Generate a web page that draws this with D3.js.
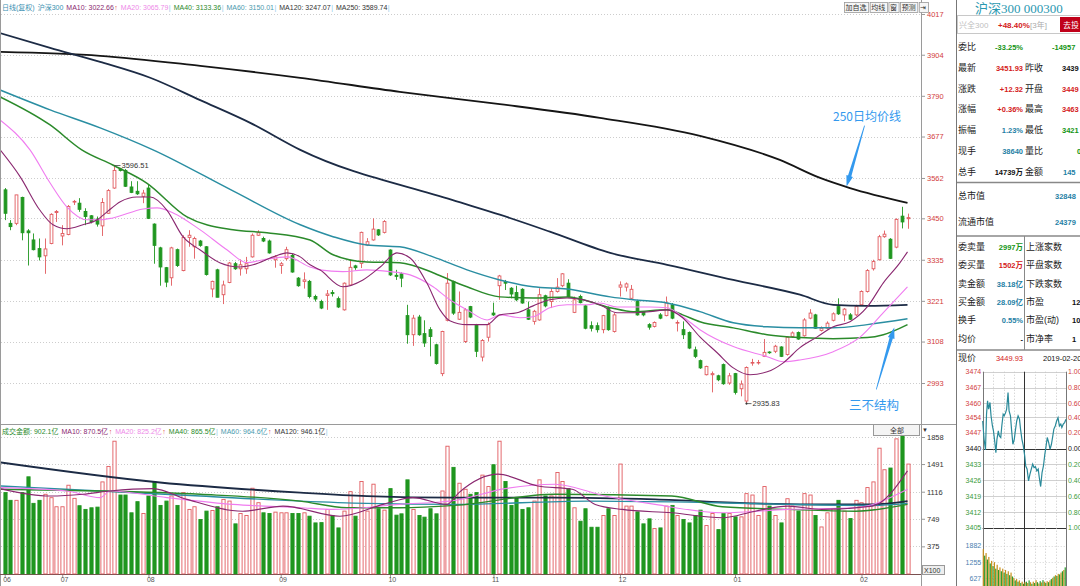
<!DOCTYPE html>
<html>
<head>
<meta charset="utf-8">
<script src="https://cdn.jsdelivr.net/npm/d3@7/dist/d3.min.js"></script>
<style>
html, body { margin: 0; padding: 0; background: #fff; overflow: hidden; }
svg { display: block; font-family: "Liberation Sans", "Noto Sans CJK SC", sans-serif; }
</style>
</head>
<body>
<svg id="chart" width="1080" height="586"></svg>
<script>
// daily candles, 沪深300, Jun 2018 -> 2019-02-20
const opens = [3529,3436,3436,3508,3415,3390,3366,3346,3380,3466,
  3401,3405,3495,3492,3469,3457,3448,3429,3464,3534,
  3587,3583,3537,3525,3511,3534,3434,3368,3313,3285,
  3363,3305,3397,3371,3387,3371,3254,3307,3238,3272,
  3324,3310,3310,3343,3403,3394,3387,3335,3319,3338,
  3347,3284,3275,3275,3233,3219,3236,3244,3227,3196,
  3265,3318,3325,3376,3390,3418,3411,3362,3292,3296,
  3180,3127,3176,3130,3141,3099,3019,3167,3275,3170,
  3108,3205,3155,3065,3120,3187,3263,3274,3256,3244,
  3253,3196,3164,3168,3235,3219,3247,3263,3270,3189,
  3233,3207,3152,3152,3141,3201,3136,3259,3259,3228,
  3219,3189,3155,3150,3182,3180,3210,3159,3141,3133,
  3085,3055,3016,3016,3013,3044,2993,3019,2977,2943,
  3048,3049,3067,3079,3081,3093,3072,3122,3133,3124,
  3173,3182,3139,3145,3167,3205,3182,3182,3182,3210,
  3247,3310,3335,3399,3392,3370,3456,3449]
const closes = [3464,3427,3515,3410,3410,3363,3343,3365,3461,3469,
  3408,3483,3497,3475,3455,3441,3434,3494,3527,3583,
  3583,3539,3522,3518,3520,3450,3375,3315,3273,3368,
  3319,3397,3403,3394,3375,3294,3275,3231,3265,3326,
  3310,3321,3324,3403,3410,3387,3354,3343,3324,3363,
  3301,3263,3279,3233,3226,3201,3240,3241,3204,3270,
  3314,3313,3411,3385,3420,3404,3441,3293,3289,3284,
  3127,3173,3127,3104,3122,3047,3136,3270,3187,3189,
  3196,3176,3081,3111,3155,3182,3290,3270,3240,3224,
  3215,3170,3192,3238,3207,3247,3259,3296,3233,3224,
  3216,3145,3145,3141,3180,3141,3182,3265,3268,3253,
  3182,3182,3148,3161,3173,3215,3173,3161,3127,3090,
  3067,3035,3039,3019,3002,2991,3013,2967,2990,3036,
  3050,3050,3078,3077,3095,3067,3120,3132,3115,3168,
  3187,3145,3145,3159,3185,3185,3198,3170,3205,3247,
  3305,3330,3399,3406,3339,3447,3440,3451.93]
const highs = [3534,3445,3515,3510,3420,3408,3394,3394,3464,3473,
  3431,3487,3501,3506,3478,3459,3455,3506,3531,3596.51,
  3590,3587,3553,3553,3529,3543,3436,3371,3315,3371,
  3366,3403,3417,3399,3390,3373,3277,3310,3277,3329,
  3329,3336,3343,3408,3417,3399,3391,3348,3329,3371,
  3352,3287,3300,3279,3238,3224,3251,3251,3233,3272,
  3335,3321,3413,3395,3450,3420,3445,3364,3307,3300,
  3210,3182,3182,3167,3148,3102,3138,3298,3277,3247,
  3201,3207,3157,3115,3161,3216,3293,3279,3259,3263,
  3256,3219,3196,3256,3238,3256,3284,3298,3281,3233,
  3238,3210,3164,3161,3182,3205,3187,3275,3272,3265,
  3224,3192,3159,3164,3187,3233,3215,3167,3164,3136,
  3094,3058,3041,3025,3016,3047,3021,3021,3000,3039,
  3060,3057,3115,3081,3099,3095,3122,3136,3136,3173,
  3198,3185,3150,3164,3189,3228,3201,3187,3210,3250,
  3309,3335,3404,3416,3395,3450,3482,3463]
const lows = [3445,3417,3431,3389,3319,3361,3333,3296,3378,3440,
  3375,3403,3487,3468,3431,3436,3427,3401,3462,3532,
  3580,3537,3520,3515,3492,3448,3324,3263,3259,3263,
  3315,3303,3371,3338,3371,3291,3231,3231,3212,3270,
  3307,3291,3296,3341,3401,3384,3352,3313,3296,3333,
  3299,3260,3255,3228,3219,3198,3196,3233,3201,3194,
  3263,3307,3312,3373,3388,3401,3408,3290,3279,3259,
  3102,3096,3124,3093,3067,3044,3012,3164,3182,3168,
  3104,3173,3065,3053,3108,3179,3224,3251,3228,3220,
  3213,3168,3155,3166,3203,3201,3244,3259,3231,3187,
  3214,3142,3136,3133,3131,3138,3133,3233,3247,3226,
  3180,3178,3141,3147,3170,3178,3170,3136,3115,3087,
  3062,3032,3014,2967,2998,2988,2988,2961,2956,2935.83,
  3041,3044,3065,3074,3076,3065,3069,3118,3113,3122,
  3170,3143,3136,3141,3164,3182,3164,3168,3179,3207,
  3244,3305,3333,3396,3337,3367,3422,3421]
// 成交金额 (亿), axis shown x100
const volumes = [1104,999,999,1104,1318,958,999,1081,1035,912,
  912,1204,1026,926,876,898,907,1249,1459,1801,
  1071,1071,830,981,821,1058,1249,930,989,1058,
  930,1104,876,912,739,853,862,912,1012,989,
  680,821,793,1163,967,830,821,839,830,830,
  821,821,830,784,693,697,876,793,625,853,
  1117,784,1254,853,1218,885,866,1158,798,816,
  1277,876,793,771,885,816,1126,1733,1446,1231,
  1149,1081,1104,1341,1186,1482,1801,1254,930,1026,
  876,898,989,1277,1058,1058,1377,1254,1158,898,
  716,885,634,634,793,885,793,1491,921,921,
  843,680,748,616,625,921,930,793,739,693,
  793,866,657,821,602,821,821,775,775,1090,
  1071,793,1186,921,793,693,1021,921,853,1090,
  1071,793,638,830,885,999,853,752,999,967,
  1172,1249,1706,1414,1437,1833,1901,1491]

// moving averages: [day index, value]
const ma10 = [[-0.8,3640],[2.7,3565],[6.1,3473],[8.4,3432],[10.8,3421],[13.6,3432],[16.1,3446],[17.8,3468],[20.1,3496],[23,3509],[25.3,3509],[28.2,3473],[31,3399],[34,3362],[37.4,3327],[40.9,3315],[43.2,3321],[46.7,3343],[49.1,3354],[51.4,3343],[53.1,3321],[54.8,3307],[58.8,3260],[62.3,3279],[65.3,3315],[68.2,3354],[70.5,3340],[73.4,3271],[75.7,3196],[77.4,3166],[80.4,3155],[83.9,3155],[86.1,3182],[89.1,3188],[91.9,3207],[94.8,3224],[97.8,3229],[100.6,3224],[103.5,3210],[106.5,3188],[109.3,3188],[112.2,3191],[115.2,3196],[117.9,3174],[120.9,3121],[123.9,3077],[126.7,3035],[129.6,3016],[132.6,3024],[135.4,3049],[138.3,3091],[141.3,3121],[144.1,3149],[147,3163],[150,3204],[152.8,3271],[155.7,3327],[157,3357]]
const ma20 = [[-0.8,3723],[4.4,3640],[7.9,3548],[10.8,3482],[14.3,3446],[16.6,3446],[18.8,3451],[24.1,3476],[26.5,3479],[29.3,3465],[34,3418],[38.7,3362],[42.1,3327],[45,3335],[49.1,3343],[53.1,3315],[54.8,3307],[58.8,3302],[63,3307],[67,3302],[70.5,3293],[74.5,3260],[77.4,3224],[80.4,3196],[83.9,3168],[86.1,3182],[89.6,3174],[91.9,3177],[94.8,3202],[97.8,3210],[101.3,3210],[103.5,3215],[106.5,3204],[112.2,3204],[115.2,3202],[117.9,3177],[120.9,3141],[126.7,3094],[132.6,3066],[135.4,3052],[138.3,3057],[144.1,3080],[148.8,3121],[152.8,3188],[157,3260]]
const ma40 = [[-0.8,3787],[7.9,3709],[13.4,3640],[18.8,3598],[24.7,3548],[31.7,3454],[39.7,3418],[45.6,3410],[53.1,3390],[57.1,3349],[63,3329],[68.7,3327],[74.5,3299],[77.4,3279],[80.4,3260],[86.1,3232],[91.9,3229],[97.8,3232],[105.3,3202],[109.3,3191],[115.2,3196],[117.9,3182],[120.9,3163],[126.7,3146],[132.6,3127],[138.3,3119],[144.1,3116],[150,3119],[152.8,3127],[157,3155]]
const ma60 = [[-0.8,3806],[7.9,3751],[16.6,3701],[25.8,3640],[39.7,3526],[51.4,3432],[57.1,3399],[63,3376],[68.7,3371],[74.5,3343],[80.4,3307],[86.1,3279],[91.9,3260],[97.8,3254],[105.3,3232],[109.3,3224],[115.2,3215],[120.9,3191],[126.7,3160],[132.6,3149],[138.3,3146],[144.1,3146],[150,3155],[157,3171]]
const ma120 = [[-0.8,3964],[7.9,3923],[16.6,3884],[25.3,3840],[34,3778],[42.7,3715],[51.4,3640],[77.8,3501],[86.1,3460],[94.8,3413],[105.3,3354],[115.2,3321],[126.7,3279],[138.3,3238],[144.1,3210],[150,3207],[157,3210]]
const ma250 = [[-0.8,3912],[16.6,3901],[34,3873],[51.4,3840],[68.7,3801],[86.1,3767],[103.5,3729],[120.9,3679],[134.8,3612],[141.8,3562],[147,3534],[157,3493]]

const vma10 = [[-0.8,1158],[7.9,1057],[13.6,1081],[18.3,1126],[25.8,1158],[31.7,1012],[41.4,852],[48.4,921],[58.3,784],[65.8,944],[71,1036],[76.9,944],[79,1104],[85.8,1354],[92.7,1194],[98.7,1149],[102.7,944],[107.4,876],[116,830],[124.8,762],[130.5,852],[136.2,921],[142.1,876],[150.9,921],[157,1399]]
const vma20 = [[-0.8,1172],[10.8,1126],[16.6,1036],[18.3,1126],[28.2,1036],[39.7,944],[51.4,899],[57.1,876],[68.7,944],[78.5,1000],[87,1158],[95.7,1217],[104.4,1057],[113.1,944],[124.8,830],[136.2,876],[147.9,899],[157,1149]]
const vma40 = [[-0.8,1149],[16.6,1126],[34,1081],[51.4,989],[59.5,899],[68.7,899],[78.3,930],[95.7,1081],[116,1057],[124.8,912],[136.2,876],[147.9,852],[157,944]]
const vma60 = [[-0.8,1194],[16.6,1126],[34,1057],[51.4,989],[63,958],[78.3,944],[101.4,989],[118.8,975],[136.2,944],[150.9,930],[157,958]]
const vma120 = [[-0.8,1514],[27,1241],[51.4,1104],[63,1057],[78.3,1036],[95.7,1036],[113.1,1012],[130.5,958],[144.9,944],[150.9,944],[157,989]]

const priceTicks = [4017, 3904, 3790, 3677, 3562, 3450, 3335, 3221, 3108, 2993]
const volTicks = [1858, 1491, 1116, 749, 375]
const monthLabels = ["06", "07", "08", "09", "10", "11", "12", "01", "02"]
const monthIdx = [0, 10, 25, 48, 67, 85, 107, 127, 149]

const priceLegend = ["日线(复权)", "沪深300", "MA10: 3022.66", "MA20: 3065.79", "MA40: 3133.36", "MA60: 3150.01", "MA120: 3247.07", "MA250: 3589.74"]
const volLegend = ["成交金额: 902.1亿", "MA10: 870.5亿", "MA20: 825.2亿", "MA40: 865.5亿", "MA60: 964.6亿", "MA120: 946.1亿"]
const toolButtons = ["加自选", "均线", "窗", "预测", "⇥"]

// intraday (分时) 2019-02-20
const intraMin = [0,4,8,11,14,17,21,24,28,31,35,38,41,45,48,52,55,59,62,66,69,73,76,80,83,87,91,94,98,102,106,109,113,117,121,124,128,132,136,140,144,148,152,156,160,163,167,171,175,179,182,186,190,194,198,202,205,209,213,217,221,225,228,232,236,240]
const intraPrice = [3452.2,3444.1,3439.4,3455.2,3461.1,3457.4,3460.4,3454.5,3450.0,3447.8,
  3442.7,3438.2,3444.1,3447.8,3445.6,3444.9,3450.0,3455.2,3454.5,3455.9,
  3457.4,3464.8,3456.7,3454.5,3448.6,3441.9,3444.1,3447.8,3452.2,3454.5,
  3453.0,3448.6,3444.1,3441.2,3436.8,3432.3,3430.9,3425.7,3428.6,3430.9,
  3433.1,3431.6,3432.0,3430.1,3430.9,3427.2,3423.2,3429.4,3432.3,3437.5,
  3440.4,3444.9,3442.7,3439.7,3441.9,3445.6,3448.6,3450.0,3452.2,3453.7,
  3450.0,3450.8,3449.3,3450.8,3451.5,3453.0]
// 4-minute volume buckets
const intraVol = [1750,1500,1600,1350,1450,1200,1300,1100,1250,1000,1150,950,1050,900,1000,850,950,800,900,750,
  850,700,650,550,600,500,550,450,500,420,480,500,450,550,480,420,500,450,560,480,
  430,520,470,560,500,450,520,480,550,600,650,700,750,720,800,780,850,900,950,1050]
const intraTicks = [3474, 3467, 3460, 3454, 3447, 3440, 3433, 3426, 3419, 3412, 3405]
const intraPct = ["1.00%", "0.80%", "0.60%", "0.40%", "0.20%", "0.00%", "0.20%", "0.40%", "0.60%", "0.80%", "1.00%"]
const intraVolTicks = [1882, 1255, 627]
const prevClose = 3440

// quote panel
const quoteLabels = ["委比", "最新", "涨跌", "涨幅", "振幅", "现手", "总手"]
const quoteValues = ["-33.25%", "3451.93", "+12.32", "+0.36%", "1.23%", "38640", "14739万"]
const quoteKinds = ["d", "u", "u", "u", "i", "i", "n"]
const quoteLabels2 = ["", "昨收", "开盘", "最高", "最低", "量比", "金额"]
const quoteValues2 = ["-14957", "3439", "3449", "3463", "3421", "0", "145"]
const quoteKinds2 = ["d", "n", "u", "u", "d", "d", "i"]
const capLabels = ["总市值", "流通市值"]
const capValues = ["32848", "24379"]
const bookLabels = ["委卖量", "委买量", "卖金额", "买金额", "换手", "均价"]
const bookValues = ["2997万", "1502万", "38.18亿", "28.09亿", "0.55%", "-"]
const bookKinds = ["d", "u", "i", "i", "i", "n"]
const bookLabels2 = ["上涨家数", "平盘家数", "下跌家数", "市盈", "市盈(动)", "市净率"]
const bookValues2 = ["", "", "", "12", "10", "1"]

const C = {
  red: "#e15a5e", green: "#1f961f",
  ma10: "#8a2870", ma20: "#f07cf0", ma40: "#2b8a2b", ma60: "#2a8ea2", ma120: "#1c2b45", ma250: "#151515",
  axisRed: "#d23c3c", note: "#3399ee"
}
const kindColor = { u: "#d42020", d: "#149414", i: "#1f7fa5", n: "#111" }

const svg = d3.select("#chart")
svg.append("rect").attr("width", 1080).attr("height", 586).attr("fill", "#fff")

const n = opens.length
const idx = d3.range(n)
const x = d3.scaleLinear().domain([0, n - 1]).range([4.7, 907.5])
const y = d3.scaleLinear().domain([2993, 4017]).range([383, 14])
const yv = d3.scaleLinear().domain([0, 1858]).range([574, 437])
const isUp = i => closes[i] >= opens[i]
const px = i => Math.round(x(i)) + 0.5

const defs = svg.append("defs")
defs.append("clipPath").attr("id", "clipPrice").append("rect")
  .attr("x", 1).attr("y", 12).attr("width", 920).attr("height", 411)
defs.append("clipPath").attr("id", "clipVol").append("rect")
  .attr("x", 1).attr("y", 425).attr("width", 920).attr("height", 149.5)

// grid lines
const grid = svg.append("g").attr("stroke", "#cdcdcd").attr("stroke-dasharray", "1,2")
grid.selectAll("line.p").data(priceTicks).join("line").attr("class", "p")
  .attr("x1", 1).attr("x2", 921)
  .attr("y1", d => Math.round(y(d)) + 0.5).attr("y2", d => Math.round(y(d)) + 0.5)
grid.selectAll("line.v").data(volTicks).join("line").attr("class", "v")
  .attr("x1", 1).attr("x2", 921)
  .attr("y1", d => Math.round(yv(d)) + 0.5).attr("y2", d => Math.round(yv(d)) + 0.5)

// frame lines
const frame = svg.append("g").attr("stroke", "#9a9a9a").attr("fill", "none")
frame.append("line").attr("x1", 0.5).attr("x2", 0.5).attr("y1", 0).attr("y2", 586)
frame.append("line").attr("x1", 921.5).attr("x2", 921.5).attr("y1", 0).attr("y2", 586)
frame.append("line").attr("x1", 0).attr("x2", 957).attr("y1", 424.5).attr("y2", 424.5)
frame.append("line").attr("x1", 0).attr("x2", 921).attr("y1", 574.5).attr("y2", 574.5).attr("stroke", "#7a5050")

// price axis
const yAxis = svg.append("g").attr("transform", "translate(921,0)")
  .call(d3.axisRight(y).tickValues(priceTicks).tickSize(4).tickFormat(d3.format("d")))
yAxis.attr("font-size", 7.5).attr("font-family", null)
yAxis.select(".domain").remove()
yAxis.selectAll("line").attr("stroke", "#999")
yAxis.selectAll("text").attr("fill", C.axisRed).attr("x", 6)

// volume axis
const vAxis = svg.append("g").attr("transform", "translate(921,0)")
  .call(d3.axisRight(yv).tickValues(volTicks).tickSize(4).tickFormat(d3.format("d")))
vAxis.attr("font-size", 7.5).attr("font-family", null)
vAxis.select(".domain").remove()
vAxis.selectAll("line").attr("stroke", "#999")
vAxis.selectAll("text").attr("fill", "#333").attr("x", 6)

// month axis
const xAxis = svg.append("g").attr("transform", "translate(0,575)")
  .call(d3.axisBottom(x).tickValues(monthIdx).tickSize(3).tickFormat((d, k) => monthLabels[k]))
xAxis.attr("font-size", 7).attr("font-family", null)
xAxis.select(".domain").remove()
xAxis.selectAll("line").attr("stroke", "#999")
xAxis.selectAll("text").attr("fill", "#555").attr("text-anchor", "start").attr("x", -2).attr("y", 2.5)

// candles
const gc = svg.append("g").attr("clip-path", "url(#clipPrice)")
gc.selectAll("line.wick").data(idx).join("line").attr("class", "wick")
  .attr("x1", px).attr("x2", px)
  .attr("y1", i => y(highs[i])).attr("y2", i => y(lows[i]))
  .attr("stroke", i => isUp(i) ? C.red : C.green).attr("stroke-width", 0.9)
gc.selectAll("rect.body").data(idx).join("rect").attr("class", "body")
  .attr("x", i => px(i) - 1.4).attr("width", 2.8)
  .attr("y", i => y(Math.max(opens[i], closes[i])))
  .attr("height", i => Math.max(0.5, Math.abs(y(opens[i]) - y(closes[i]))))
  .attr("fill", i => isUp(i) ? "#fff" : C.green)
  .attr("stroke", i => isUp(i) ? C.red : C.green).attr("stroke-width", 0.9)

// price moving averages
const maLine = d3.line().x(d => x(d[0])).y(d => y(d[1])).curve(d3.curveMonotoneX)
const maSeries = [[ma250, C.ma250, 1.8], [ma120, C.ma120, 1.8], [ma60, C.ma60, 1.5], [ma40, C.ma40, 1.5], [ma20, C.ma20, 1.1], [ma10, C.ma10, 1.1]]
maSeries.forEach(([data, color, w]) => {
  gc.append("path").datum(data).attr("d", maLine)
    .attr("fill", "none").attr("stroke", color).attr("stroke-width", w)
})

// extreme labels
const hiI = highs.indexOf(d3.max(highs)), loI = lows.indexOf(d3.min(lows))
svg.append("line").attr("x1", px(hiI)).attr("x2", px(hiI) + 6)
  .attr("y1", y(highs[hiI])).attr("y2", y(highs[hiI])).attr("stroke", "#444").attr("stroke-width", 0.8)
svg.append("text").attr("x", px(hiI) + 7).attr("y", y(highs[hiI]) + 2.6)
  .attr("font-size", 7.5).attr("fill", "#333").text(d3.format(".2f")(highs[hiI]))
svg.append("circle").attr("cx", px(loI)).attr("cy", y(lows[loI])).attr("r", 1.1).attr("fill", "#333")
svg.append("line").attr("x1", px(loI)).attr("x2", px(loI) + 5)
  .attr("y1", y(lows[loI])).attr("y2", y(lows[loI])).attr("stroke", "#444").attr("stroke-width", 0.8)
svg.append("text").attr("x", px(loI) + 6).attr("y", y(lows[loI]) + 2.6)
  .attr("font-size", 7.5).attr("fill", "#333").text(d3.format(".2f")(lows[loI]))

// volume bars
const gv = svg.append("g").attr("clip-path", "url(#clipVol)")
gv.selectAll("rect").data(idx).join("rect")
  .attr("x", i => px(i) - 1.6).attr("width", 3.2)
  .attr("y", i => yv(volumes[i])).attr("height", i => yv(0) - yv(volumes[i]))
  .attr("fill", i => isUp(i) ? "#fff" : C.green)
  .attr("stroke", i => isUp(i) ? C.red : C.green).attr("stroke-width", 0.9)

const vLine = d3.line().x(d => x(d[0])).y(d => yv(d[1])).curve(d3.curveMonotoneX)
const vmaSeries = [[vma120, C.ma120, 1.8], [vma60, C.ma60, 1.4], [vma40, C.ma40, 1.4], [vma20, C.ma20, 1.1], [vma10, C.ma10, 1.1]]
vmaSeries.forEach(([data, color, w]) => {
  gv.append("path").datum(data).attr("d", vLine)
    .attr("fill", "none").attr("stroke", color).attr("stroke-width", w)
})

// legends
function legendRow(texts, colors, marks, y0) {
  let cx = 2
  texts.forEach((t, k) => {
    const el = svg.append("text").attr("x", cx).attr("y", y0).attr("font-size", 7).attr("fill", colors[k]).text(t)
    cx += el.node().getComputedTextLength()
    if (marks[k]) {
      const m = svg.append("text").attr("x", cx + 0.5).attr("y", y0).attr("font-size", 7)
        .attr("fill", marks[k] === "↑" ? "#e04040" : "#8cc8e8").text(marks[k])
      cx += m.node().getComputedTextLength() + 0.5
    }
    cx += 3
  })
}
legendRow(priceLegend, ["#3a8fb0", "#3a8fb0", C.ma10, "#ee88e8", C.ma40, "#4a9aae", "#333", "#333"],
  ["", "", "↑", "|", "|", "|", "|", "|"], 9.5)
legendRow(volLegend, [C.ma40, C.ma10, "#ee88e8", C.ma40, "#4a9aae", "#333"],
  ["", "↑", "↑", "|", "↑", "|"], 433.5)

// tool buttons
let bx = 844
toolButtons.forEach(t => {
  const g = svg.append("g")
  const r = g.append("rect").attr("y", 2.5).attr("height", 10).attr("fill", "#f6f6f6").attr("stroke", "#9a9a9a").attr("stroke-width", 0.8)
  const tx = g.append("text").attr("x", bx + 1.6).attr("y", 10.3).attr("font-size", 7).attr("fill", "#333").text(t)
  const w = tx.node().getComputedTextLength() + 3.2
  r.attr("x", bx + 0.5).attr("width", w)
  bx += w + 1.5
})

// 全部 box on volume panel
svg.append("rect").attr("x", 873.5).attr("y", 424.5).attr("width", 46).attr("height", 11).attr("fill", "#f4f4f4").attr("stroke", "#999")
svg.append("text").attr("x", 897).attr("y", 433).attr("text-anchor", "middle").attr("font-size", 7).attr("fill", "#333").text("全部")
svg.append("text").attr("x", 922).attr("y", 432).attr("font-size", 6).attr("fill", "#333").text("▼")

// X100 box
svg.append("rect").attr("x", 922.5).attr("y", 565.5).attr("width", 22).attr("height", 9).attr("fill", "#eee").attr("stroke", "#999")
svg.append("text").attr("x", 924).attr("y", 573).attr("font-size", 7).attr("fill", "#333").text("X100")

// annotations
function arrowPts(tail, tip, w0, w1, headLen, headW) {
  const dx = tip[0] - tail[0], dy = tip[1] - tail[1], L = Math.hypot(dx, dy)
  const ux = dx / L, uy = dy / L, nx = -uy, ny = ux
  const hb = [tip[0] - ux * headLen, tip[1] - uy * headLen]
  const p = (pt, s) => [pt[0] + nx * s, pt[1] + ny * s]
  return [p(tail, w0), p(hb, w1), p(hb, headW), tip, p(hb, -headW), p(hb, -w1), p(tail, -w0)]
    .map(d => d.join(",")).join(" ")
}
const tip1 = [x(146.4), y(3538)]
const tip2 = [x(154.7), y(3147)]
svg.append("polygon").attr("points", arrowPts([tip1[0] + 18, tip1[1] - 61], tip1, 0.4, 1.7, 11, 3.4)).attr("fill", C.note)
svg.append("polygon").attr("points", arrowPts([tip2[0] - 18, tip2[1] + 62], tip2, 0.4, 1.7, 11, 3.4)).attr("fill", C.note)
svg.append("text").attr("x", 833).attr("y", 121).attr("font-size", 12).attr("fill", C.note)
  .attr("font-family", "Noto Sans CJK SC").text("250日均价线")
svg.append("text").attr("x", 849).attr("y", 410).attr("font-size", 12.5).attr("fill", C.note)
  .attr("font-family", "Noto Sans CJK SC").text("三不结构")

// ---------- right quote panel ----------
const panel = svg.append("g")
panel.append("line").attr("x1", 956.5).attr("x2", 956.5).attr("y1", 0).attr("y2", 586).attr("stroke", "#777")
panel.append("text").attr("x", 1019).attr("y", 13).attr("text-anchor", "middle")
  .attr("font-size", 13).attr("fill", "#2b98b0").attr("font-family", "Liberation Serif, Noto Sans CJK SC")
  .text("沪深300 000300")
panel.append("rect").attr("x", 957.5).attr("y", 15.5).attr("width", 130).attr("height", 18).attr("fill", "#fff").attr("stroke", "#c8c8c8")
panel.append("text").attr("x", 959).attr("y", 27.5).attr("font-size", 8).attr("fill", "#c0c0c0").text("兴全300")
panel.append("text").attr("x", 998).attr("y", 27.5).attr("font-size", 8).attr("font-weight", "bold").attr("fill", "#d42020").text("+48.40%")
panel.append("text").attr("x", 1030).attr("y", 27.5).attr("font-size", 8).attr("fill", "#aaa").text("[3年]")
panel.append("rect").attr("x", 1060).attr("y", 17).attr("width", 24).attr("height", 15).attr("fill", "#c0001a")
panel.append("text").attr("x", 1063).attr("y", 27.5).attr("font-size", 8).attr("fill", "#fff").text("去投")

const rowY = [46.7, 67.7, 88.3, 109, 130, 150.7, 171.7]
const col2X = [1052, 1062, 1062, 1062, 1062, 1077, 1063]
quoteLabels.forEach((t, k) => {
  const yy = rowY[k] + 3.3
  panel.append("text").attr("x", 958).attr("y", yy).attr("font-size", 9).attr("fill", "#222").text(t)
  panel.append("text").attr("x", 1023).attr("y", yy).attr("text-anchor", "end").attr("font-size", 7.5)
    .attr("font-weight", "bold").attr("fill", kindColor[quoteKinds[k]]).text(quoteValues[k])
  if (quoteLabels2[k]) panel.append("text").attr("x", 1025).attr("y", yy).attr("font-size", 9).attr("fill", "#222").text(quoteLabels2[k])
  panel.append("text").attr("x", col2X[k]).attr("y", yy).attr("font-size", 7.5)
    .attr("font-weight", "bold").attr("fill", kindColor[quoteKinds2[k]]).text(quoteValues2[k])
})
panel.selectAll("line.sep").data([182.5, 236, 350]).join("line").attr("class", "sep")
  .attr("x1", 957).attr("x2", 1080).attr("y1", d => d).attr("y2", d => d).attr("stroke", "#888").attr("stroke-width", 1.3)

const capY = [196, 222]
capLabels.forEach((t, k) => {
  panel.append("text").attr("x", 958).attr("y", capY[k] + 3.3).attr("font-size", 9).attr("fill", "#222").text(t)
  panel.append("text").attr("x", 1055).attr("y", capY[k] + 3.3).attr("font-size", 7.5).attr("font-weight", "bold")
    .attr("fill", kindColor.i).text(capValues[k])
})

const bookY = [246.7, 265, 283.3, 301.7, 320, 338.3]
panel.append("line").attr("x1", 1024.5).attr("x2", 1024.5).attr("y1", 236).attr("y2", 350).attr("stroke", "#888")
bookLabels.forEach((t, k) => {
  const yy = bookY[k] + 3.3
  panel.append("text").attr("x", 958).attr("y", yy).attr("font-size", 9).attr("fill", "#222").text(t)
  panel.append("text").attr("x", 1023).attr("y", yy).attr("text-anchor", "end").attr("font-size", 7.5)
    .attr("font-weight", "bold").attr("fill", kindColor[bookKinds[k]]).text(bookValues[k])
  panel.append("text").attr("x", 1026).attr("y", yy).attr("font-size", 9).attr("fill", "#222").text(bookLabels2[k])
  panel.append("text").attr("x", 1072).attr("y", yy).attr("font-size", 7.5).attr("font-weight", "bold").attr("fill", "#111").text(bookValues2[k])
})

panel.append("text").attr("x", 958).attr("y", 361).attr("font-size", 9).attr("fill", "#222").text("现价")
panel.append("text").attr("x", 1023).attr("y", 361).attr("text-anchor", "end").attr("font-size", 7.5).attr("fill", kindColor.u).text("3449.93")
panel.append("text").attr("x", 1043).attr("y", 361).attr("font-size", 7.5).attr("fill", "#111").text("2019-02-20")

// ---------- intraday chart ----------
const xi = d3.scaleLinear().domain([0, 240]).range([982.7, 1066])
const yi = d3.scaleLinear().domain([3405, 3474]).range([527.7, 371.7])
const yiv = d3.scaleLinear().domain([0, 1882]).range([594.7, 545.7])
const gi = svg.append("g")
gi.selectAll("line.h").data(intraTicks).join("line").attr("class", "h")
  .attr("x1", xi(0)).attr("x2", xi(240))
  .attr("y1", d => Math.round(yi(d)) + 0.5).attr("y2", d => Math.round(yi(d)) + 0.5)
  .attr("stroke", d => d === prevClose || d === 3405 ? "#333" : "#c4c4c4")
  .attr("stroke-width", d => d === prevClose || d === 3405 ? 1.2 : 0.8)
gi.selectAll("line.hv").data(intraVolTicks).join("line").attr("class", "hv")
  .attr("x1", xi(0)).attr("x2", xi(240))
  .attr("y1", d => Math.round(yiv(d)) + 0.5).attr("y2", d => Math.round(yiv(d)) + 0.5)
  .attr("stroke", "#d4d4d4").attr("stroke-dasharray", "1,2")
const vMins = [0, 30, 60, 90, 120, 150, 180, 210, 240]
gi.selectAll("line.vt").data(vMins).join("line").attr("class", "vt")
  .attr("x1", d => Math.round(xi(d)) + 0.5).attr("x2", d => Math.round(xi(d)) + 0.5)
  .attr("y1", yi(3474)).attr("y2", 586)
  .attr("stroke", d => d === 120 ? "#333" : (d === 0 || d === 240 ? "#777" : "#c8c8c8"))
  .attr("stroke-dasharray", d => d === 120 || d === 0 || d === 240 ? null : "1,2")

const ilAxis = gi.append("g").attr("transform", `translate(${xi(0)},0)`)
  .call(d3.axisLeft(yi).tickValues(intraTicks).tickSize(0).tickFormat(d3.format("d")))
ilAxis.attr("font-size", 7).attr("font-family", null)
ilAxis.select(".domain").remove()
ilAxis.selectAll("text").attr("x", -1.5).attr("fill", d => d > prevClose ? C.axisRed : (d === prevClose ? "#111" : "#3a9a3a"))
const irAxis = gi.append("g").attr("transform", `translate(${xi(240)},0)`)
  .call(d3.axisRight(yi).tickValues(intraTicks).tickSize(0).tickFormat((d, k) => intraPct[k]))
irAxis.attr("font-size", 7).attr("font-family", null)
irAxis.select(".domain").remove()
irAxis.selectAll("text").attr("x", 2).attr("fill", d => d > prevClose ? C.axisRed : (d === prevClose ? "#111" : "#3a9a3a"))
const ivAxis = gi.append("g").attr("transform", `translate(${xi(0)},0)`)
  .call(d3.axisLeft(yiv).tickValues(intraVolTicks).tickSize(0).tickFormat(d3.format("d")))
ivAxis.attr("font-size", 7).attr("font-family", null)
ivAxis.select(".domain").remove()
ivAxis.selectAll("text").attr("x", -1.5).attr("fill", "#4a80b0")

gi.selectAll("rect.iv").data(intraVol).join("rect").attr("class", "iv")
  .attr("x", (d, k) => xi(k * 4)).attr("width", 1.2)
  .attr("y", d => yiv(d)).attr("height", d => yiv(0) - yiv(d))
  .attr("fill", (d, k) => k % 2 ? "#2a9a2a" : "#c8901e")

const iLine = d3.line().x((d, k) => xi(intraMin[k])).y(d => yi(d))
gi.append("path").datum(intraPrice).attr("d", iLine)
  .attr("fill", "none").attr("stroke", "#2a8a9a").attr("stroke-width", 1.2)
</script>
</body>
</html>
